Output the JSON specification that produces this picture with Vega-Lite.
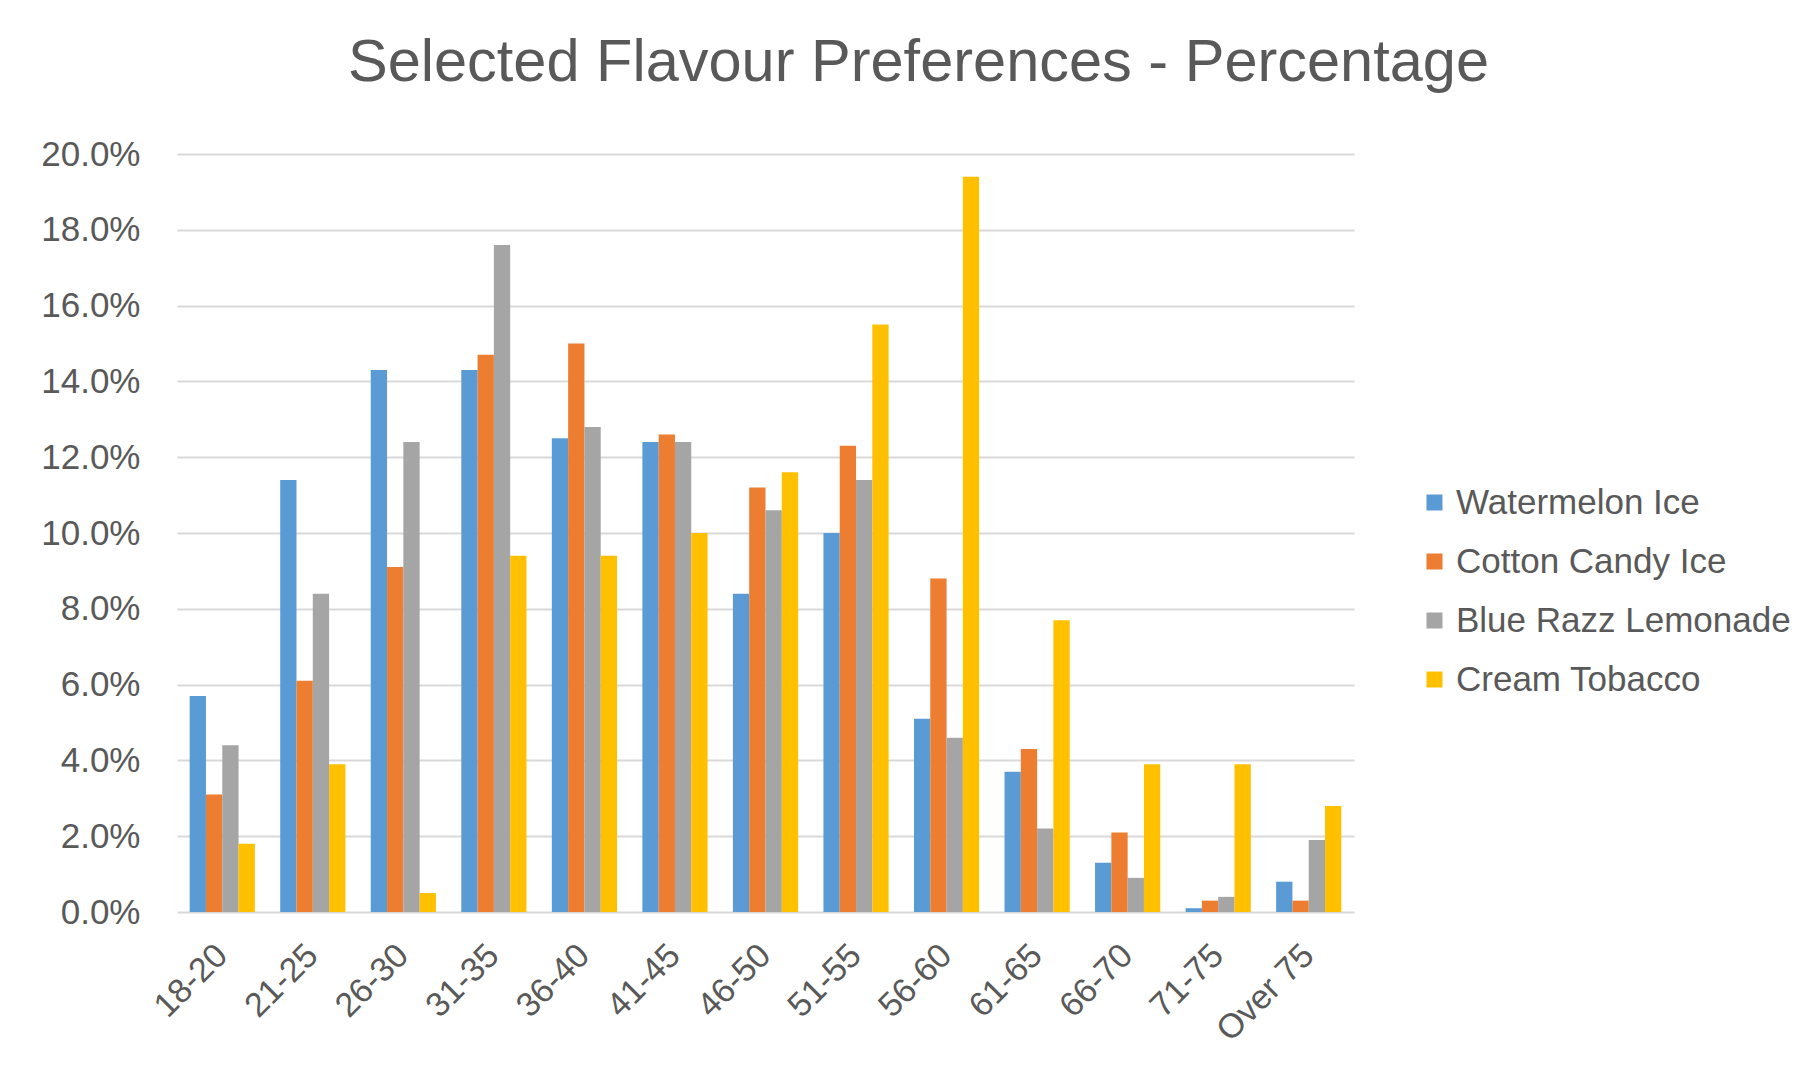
{
  "$schema": "https://vega.github.io/schema/vega-lite/v6.json",
  "autosize": {"type": "none"},
  "padding": {"left": 177, "top": 154, "right": 451, "bottom": 161},
  "width": 1177,
  "height": 758,
  "background": "white",
  "title": {
    "text": "Selected Flavour Preferences - Percentage",
    "anchor": "start",
    "frame": "group",
    "dx": 171,
    "offset": -3,
    "baseline": "alphabetic",
    "font": "Liberation Sans",
    "fontSize": 59.5,
    "fontWeight": "normal",
    "color": "#595959"
  },
  "data": {
    "values": [
      {"age": "18-20", "flavour": "Watermelon Ice", "share": 0.057},
      {"age": "18-20", "flavour": "Cotton Candy Ice", "share": 0.031},
      {"age": "18-20", "flavour": "Blue Razz Lemonade", "share": 0.044},
      {"age": "18-20", "flavour": "Cream Tobacco", "share": 0.018},
      {"age": "21-25", "flavour": "Watermelon Ice", "share": 0.114},
      {"age": "21-25", "flavour": "Cotton Candy Ice", "share": 0.061},
      {"age": "21-25", "flavour": "Blue Razz Lemonade", "share": 0.084},
      {"age": "21-25", "flavour": "Cream Tobacco", "share": 0.039},
      {"age": "26-30", "flavour": "Watermelon Ice", "share": 0.143},
      {"age": "26-30", "flavour": "Cotton Candy Ice", "share": 0.091},
      {"age": "26-30", "flavour": "Blue Razz Lemonade", "share": 0.124},
      {"age": "26-30", "flavour": "Cream Tobacco", "share": 0.005},
      {"age": "31-35", "flavour": "Watermelon Ice", "share": 0.143},
      {"age": "31-35", "flavour": "Cotton Candy Ice", "share": 0.147},
      {"age": "31-35", "flavour": "Blue Razz Lemonade", "share": 0.176},
      {"age": "31-35", "flavour": "Cream Tobacco", "share": 0.094},
      {"age": "36-40", "flavour": "Watermelon Ice", "share": 0.125},
      {"age": "36-40", "flavour": "Cotton Candy Ice", "share": 0.150},
      {"age": "36-40", "flavour": "Blue Razz Lemonade", "share": 0.128},
      {"age": "36-40", "flavour": "Cream Tobacco", "share": 0.094},
      {"age": "41-45", "flavour": "Watermelon Ice", "share": 0.124},
      {"age": "41-45", "flavour": "Cotton Candy Ice", "share": 0.126},
      {"age": "41-45", "flavour": "Blue Razz Lemonade", "share": 0.124},
      {"age": "41-45", "flavour": "Cream Tobacco", "share": 0.100},
      {"age": "46-50", "flavour": "Watermelon Ice", "share": 0.084},
      {"age": "46-50", "flavour": "Cotton Candy Ice", "share": 0.112},
      {"age": "46-50", "flavour": "Blue Razz Lemonade", "share": 0.106},
      {"age": "46-50", "flavour": "Cream Tobacco", "share": 0.116},
      {"age": "51-55", "flavour": "Watermelon Ice", "share": 0.100},
      {"age": "51-55", "flavour": "Cotton Candy Ice", "share": 0.123},
      {"age": "51-55", "flavour": "Blue Razz Lemonade", "share": 0.114},
      {"age": "51-55", "flavour": "Cream Tobacco", "share": 0.155},
      {"age": "56-60", "flavour": "Watermelon Ice", "share": 0.051},
      {"age": "56-60", "flavour": "Cotton Candy Ice", "share": 0.088},
      {"age": "56-60", "flavour": "Blue Razz Lemonade", "share": 0.046},
      {"age": "56-60", "flavour": "Cream Tobacco", "share": 0.194},
      {"age": "61-65", "flavour": "Watermelon Ice", "share": 0.037},
      {"age": "61-65", "flavour": "Cotton Candy Ice", "share": 0.043},
      {"age": "61-65", "flavour": "Blue Razz Lemonade", "share": 0.022},
      {"age": "61-65", "flavour": "Cream Tobacco", "share": 0.077},
      {"age": "66-70", "flavour": "Watermelon Ice", "share": 0.013},
      {"age": "66-70", "flavour": "Cotton Candy Ice", "share": 0.021},
      {"age": "66-70", "flavour": "Blue Razz Lemonade", "share": 0.009},
      {"age": "66-70", "flavour": "Cream Tobacco", "share": 0.039},
      {"age": "71-75", "flavour": "Watermelon Ice", "share": 0.001},
      {"age": "71-75", "flavour": "Cotton Candy Ice", "share": 0.003},
      {"age": "71-75", "flavour": "Blue Razz Lemonade", "share": 0.004},
      {"age": "71-75", "flavour": "Cream Tobacco", "share": 0.039},
      {"age": "Over 75", "flavour": "Watermelon Ice", "share": 0.008},
      {"age": "Over 75", "flavour": "Cotton Candy Ice", "share": 0.003},
      {"age": "Over 75", "flavour": "Blue Razz Lemonade", "share": 0.019},
      {"age": "Over 75", "flavour": "Cream Tobacco", "share": 0.028}
    ]
  },
  "mark": {"type": "bar"},
  "encoding": {
    "x": {
      "field": "age",
      "type": "nominal",
      "sort": null,
      "scale": {"paddingInner": 0.28, "paddingOuter": 0.14},
      "axis": {
        "title": null,
        "domain": false,
        "ticks": false,
        "grid": false,
        "labelAngle": -45,
        "labelAlign": "right",
        "labelBaseline": "middle",
        "labelPadding": 38,
        "labelFont": "Liberation Sans",
        "labelFontSize": 34,
        "labelColor": "#595959"
      }
    },
    "xOffset": {
      "field": "flavour",
      "type": "nominal",
      "sort": ["Watermelon Ice", "Cotton Candy Ice", "Blue Razz Lemonade", "Cream Tobacco"],
      "scale": {"paddingInner": 0, "paddingOuter": 0}
    },
    "y": {
      "field": "share",
      "type": "quantitative",
      "scale": {"domain": [0, 0.2], "nice": false},
      "axis": {
        "title": null,
        "format": ".1%",
        "values": [0, 0.02, 0.04, 0.06, 0.08, 0.1, 0.12, 0.14, 0.16, 0.18, 0.2],
        "domain": false,
        "ticks": false,
        "labelPadding": 37,
        "labelFont": "Liberation Sans",
        "labelFontSize": 35,
        "labelColor": "#595959",
        "gridColor": "#d9d9d9",
        "gridWidth": 2
      }
    },
    "color": {
      "field": "flavour",
      "type": "nominal",
      "sort": ["Watermelon Ice", "Cotton Candy Ice", "Blue Razz Lemonade", "Cream Tobacco"],
      "scale": {
        "domain": ["Watermelon Ice", "Cotton Candy Ice", "Blue Razz Lemonade", "Cream Tobacco"],
        "range": ["#5b9bd5", "#ed7d31", "#a5a5a5", "#ffc000"]
      },
      "legend": {
        "title": null,
        "orient": "none",
        "legendX": 1240,
        "legendY": 331,
        "symbolType": "square",
        "symbolSize": 256,
        "symbolStrokeWidth": 0,
        "labelFont": "Liberation Sans",
        "labelFontSize": 35,
        "labelColor": "#595959",
        "labelOffset": 4,
        "rowPadding": 23,
        "labelLimit": 400
      }
    }
  },
  "config": {
    "view": {"stroke": null}
  }
}
